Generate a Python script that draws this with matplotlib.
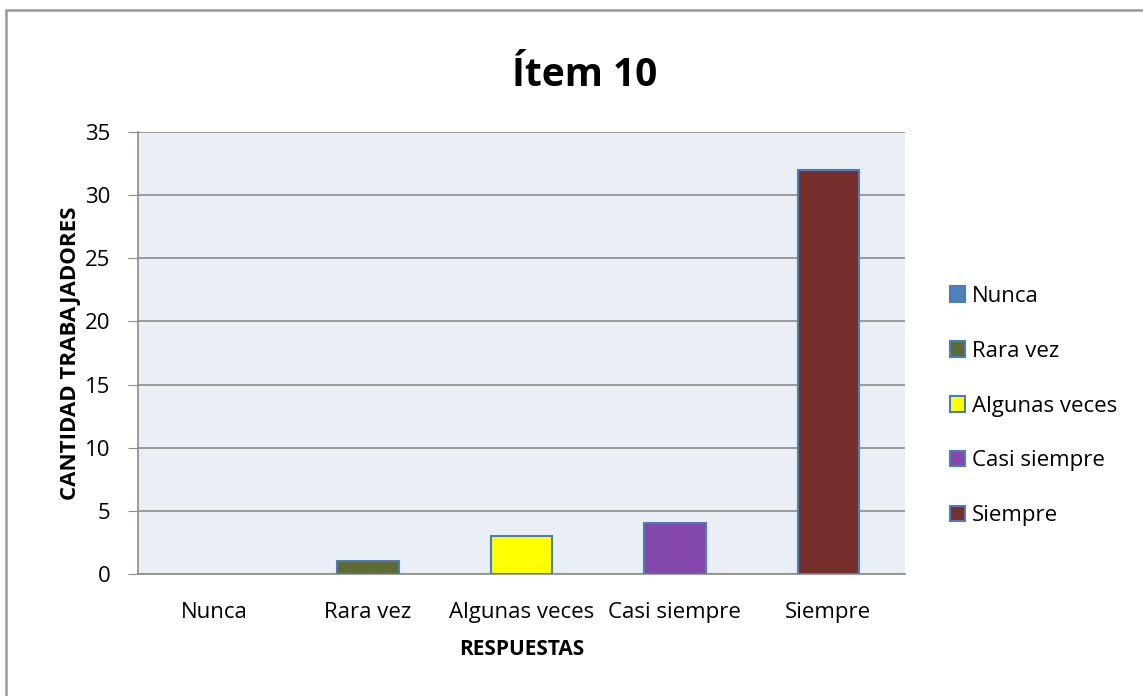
import matplotlib.pyplot as plt
from matplotlib.patches import Rectangle

# Datos del gráfico
categorias = ["Nunca", "Rara vez", "Algunas veces", "Casi siempre", "Siempre"]
valores = [0, 1, 3, 4, 32]
colores = ["#4f81bd", "#5e6b34", "#ffff00", "#8447ab", "#772f2c"]

plt.rcParams['font.family'] = ['Open Sans', 'DejaVu Sans']

fig = plt.figure(figsize=(11.43, 6.96), dpi=100)
W, H = 1143, 696

# Borde exterior del gráfico (se sale por la derecha y por abajo)
fig.patches.append(Rectangle((5.5 / W, -20 / H), 1200 / W, 706 / H, transform=fig.transFigure,
                             fill=False, edgecolor="#999999", linewidth=1.8))

left, right, top, bottom = 138, 905, 132, 574
ax = fig.add_axes([left / W, 1 - bottom / H, (right - left) / W, (bottom - top) / H])
ax.set_facecolor("#eaeef5")

x = range(len(categorias))
for i, (v, c, lab) in enumerate(zip(valores, colores, categorias)):
    ax.bar(i, v, width=0.4, color=c, edgecolor="#4a7ebb",
           linewidth=1.5 if v > 0 else 0, label=lab, zorder=3)

ax.set_xlim(-0.5, 4.5)
ax.set_ylim(0, 35)
ax.set_yticks(range(0, 36, 5))
ax.set_xticks(list(x))
ax.set_xticklabels(categorias)
ax.yaxis.grid(True, color="#8c8c8c", linewidth=1.2, zorder=0)
ax.tick_params(axis='x', labelsize=16, length=0, pad=20)
ax.tick_params(axis='y', labelsize=16, length=7, direction='out', color="#8c8c8c", pad=13)
for s in ["top", "right"]:
    ax.spines[s].set_visible(False)
for s in ["left", "bottom"]:
    ax.spines[s].set_color("#8c8c8c")
    ax.spines[s].set_linewidth(1.2)

ax.set_xlabel("RESPUESTAS", fontsize=15, fontweight='bold', labelpad=12)
ax.set_ylabel("CANTIDAD TRABAJADORES", fontsize=16, fontweight='bold', labelpad=3)

fig.text(585 / W, 1 - 75 / H, "Ítem 10", fontsize=28, fontweight='bold',
         ha='center', va='center')

leg = ax.legend(loc='center left', bbox_to_anchor=(1.032, 0.38), frameon=False,
                fontsize=16, handlelength=0.7, handleheight=0.7, handletextpad=0.3,
                labelspacing=1.52)
for h in leg.legend_handles:
    h.set_edgecolor("#4a7ebb")
    h.set_linewidth(1.5)

plt.savefig("out.png", dpi=100)
